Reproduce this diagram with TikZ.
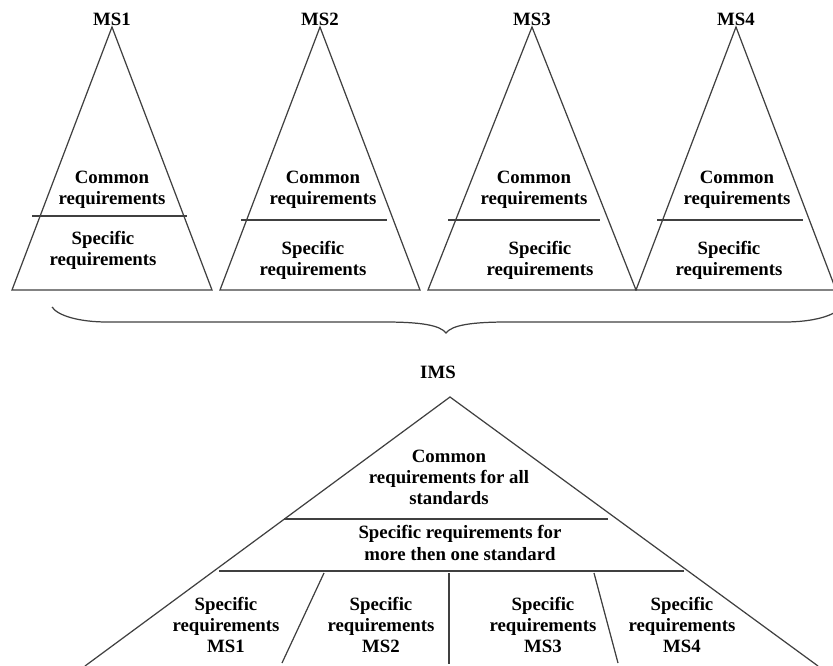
\documentclass[tikz,border=0pt]{standalone}
\usepackage{fontspec}
\setmainfont{Liberation Serif}
\tikzset{
	linea/.style={draw=black!75, line width=0.7pt},
	texto/.style={font=\fontsize{10.7}{12}\selectfont\bfseries, align=center, inner sep=0pt},
}

\begin{document}
\begin{tikzpicture}[x=0.02cm,y=-0.02cm]
	\useasboundingbox (0,0) rectangle (833,666);

	%Triangulo MS1
	\coordinate (a1) at (112,27);
	\coordinate (l1) at (12,290);
	\coordinate (r1) at (212,290);
	\coordinate (d1i) at (32,216);
	\coordinate (d1d) at (187,216);
	\draw[linea] (a1) -- (l1) -- (r1) -- cycle;
	\draw[linea] (d1i) -- (d1d);
	\node[texto] (ms1) at (112,19) {MS1};
	\node[texto] (com1) at (112,190) {Common\\requirements};
	\node[texto] (esp1) at (103,250) {Specific\\requirements};

	%Triangulo MS2
	\coordinate (a2) at (320,27);
	\coordinate (l2) at (220,290);
	\coordinate (r2) at (420,290);
	\coordinate (d2i) at (241,220);
	\coordinate (d2d) at (387,220);
	\draw[linea] (a2) -- (l2) -- (r2) -- cycle;
	\draw[linea] (d2i) -- (d2d);
	\node[texto] (ms2) at (320,19) {MS2};
	\node[texto] (com2) at (323,190) {Common\\requirements};
	\node[texto] (esp2) at (313,260) {Specific\\requirements};

	%Triangulo MS3
	\coordinate (a3) at (532,27);
	\coordinate (l3) at (428,290);
	\coordinate (r3) at (636,290);
	\coordinate (d3i) at (448,220);
	\coordinate (d3d) at (600,220);
	\draw[linea] (a3) -- (l3) -- (r3) -- cycle;
	\draw[linea] (d3i) -- (d3d);
	\node[texto] (ms3) at (532,19) {MS3};
	\node[texto] (com3) at (534,190) {Common\\requirements};
	\node[texto] (esp3) at (540,260) {Specific\\requirements};

	%Triangulo MS4 (comparte vertice con MS3)
	\coordinate (a4) at (736,27);
	\coordinate (r4) at (836,290);
	\coordinate (d4i) at (657,220);
	\coordinate (d4d) at (803,220);
	\draw[linea] (a4) -- (r3) -- (r4) -- cycle;
	\draw[linea] (d4i) -- (d4d);
	\node[texto] (ms4) at (736,19) {MS4};
	\node[texto] (com4) at (737,190) {Common\\requirements};
	\node[texto] (esp4) at (729,260) {Specific\\requirements};

	%Llave
	\coordinate (li) at (52,307);
	\coordinate (pk) at (446,333);
	\coordinate (ld) at (841,307);
	\draw[linea] (li) .. controls (58,316) and (80,322) .. (107,322) -- (384,322)
		.. controls (420,322) and (440,325) .. (pk)
		.. controls (452,325) and (472,322) .. (508,322) -- (785,322)
		.. controls (812,322) and (835,316) .. (ld);

	%Triangulo IMS
	\node[texto] (ims) at (438,372) {IMS};
	\coordinate (ai) at (450,397);
	\coordinate (li2) at (85,666);
	\coordinate (ri2) at (818,666);
	\draw[linea] (li2) -- (ai) -- (ri2);
	\coordinate (c1i) at (284,519);
	\coordinate (c1d) at (608,519);
	\coordinate (c2i) at (219,571);
	\coordinate (c2d) at (684,571);
	\draw[linea] (c1i) -- (c1d);
	\draw[linea] (c2i) -- (c2d);
	%Separaciones inferiores
	\coordinate (s1a) at (324,573);
	\coordinate (s1b) at (282,663);
	\coordinate (s2a) at (449,573);
	\coordinate (s2b) at (449,664);
	\coordinate (s3a) at (594,573);
	\coordinate (s3b) at (618,663);
	\draw[linea] (s1a) -- (s1b);
	\draw[linea] (s2a) -- (s2b);
	\draw[linea] (s3a) -- (s3b);

	\node[texto] (comi) at (449,477) {Common\\requirements for all\\standards};
	\node[texto] (espi) at (460,543) {Specific requirements for\\more then one standard};
	\node[texto] (e1) at (226,625) {Specific\\requirements\\MS1};
	\node[texto] (e2) at (381,625) {Specific\\requirements\\MS2};
	\node[texto] (e3) at (543,625) {Specific\\requirements\\MS3};
	\node[texto] (e4) at (682,625) {Specific\\requirements\\MS4};
\end{tikzpicture}
\end{document}
